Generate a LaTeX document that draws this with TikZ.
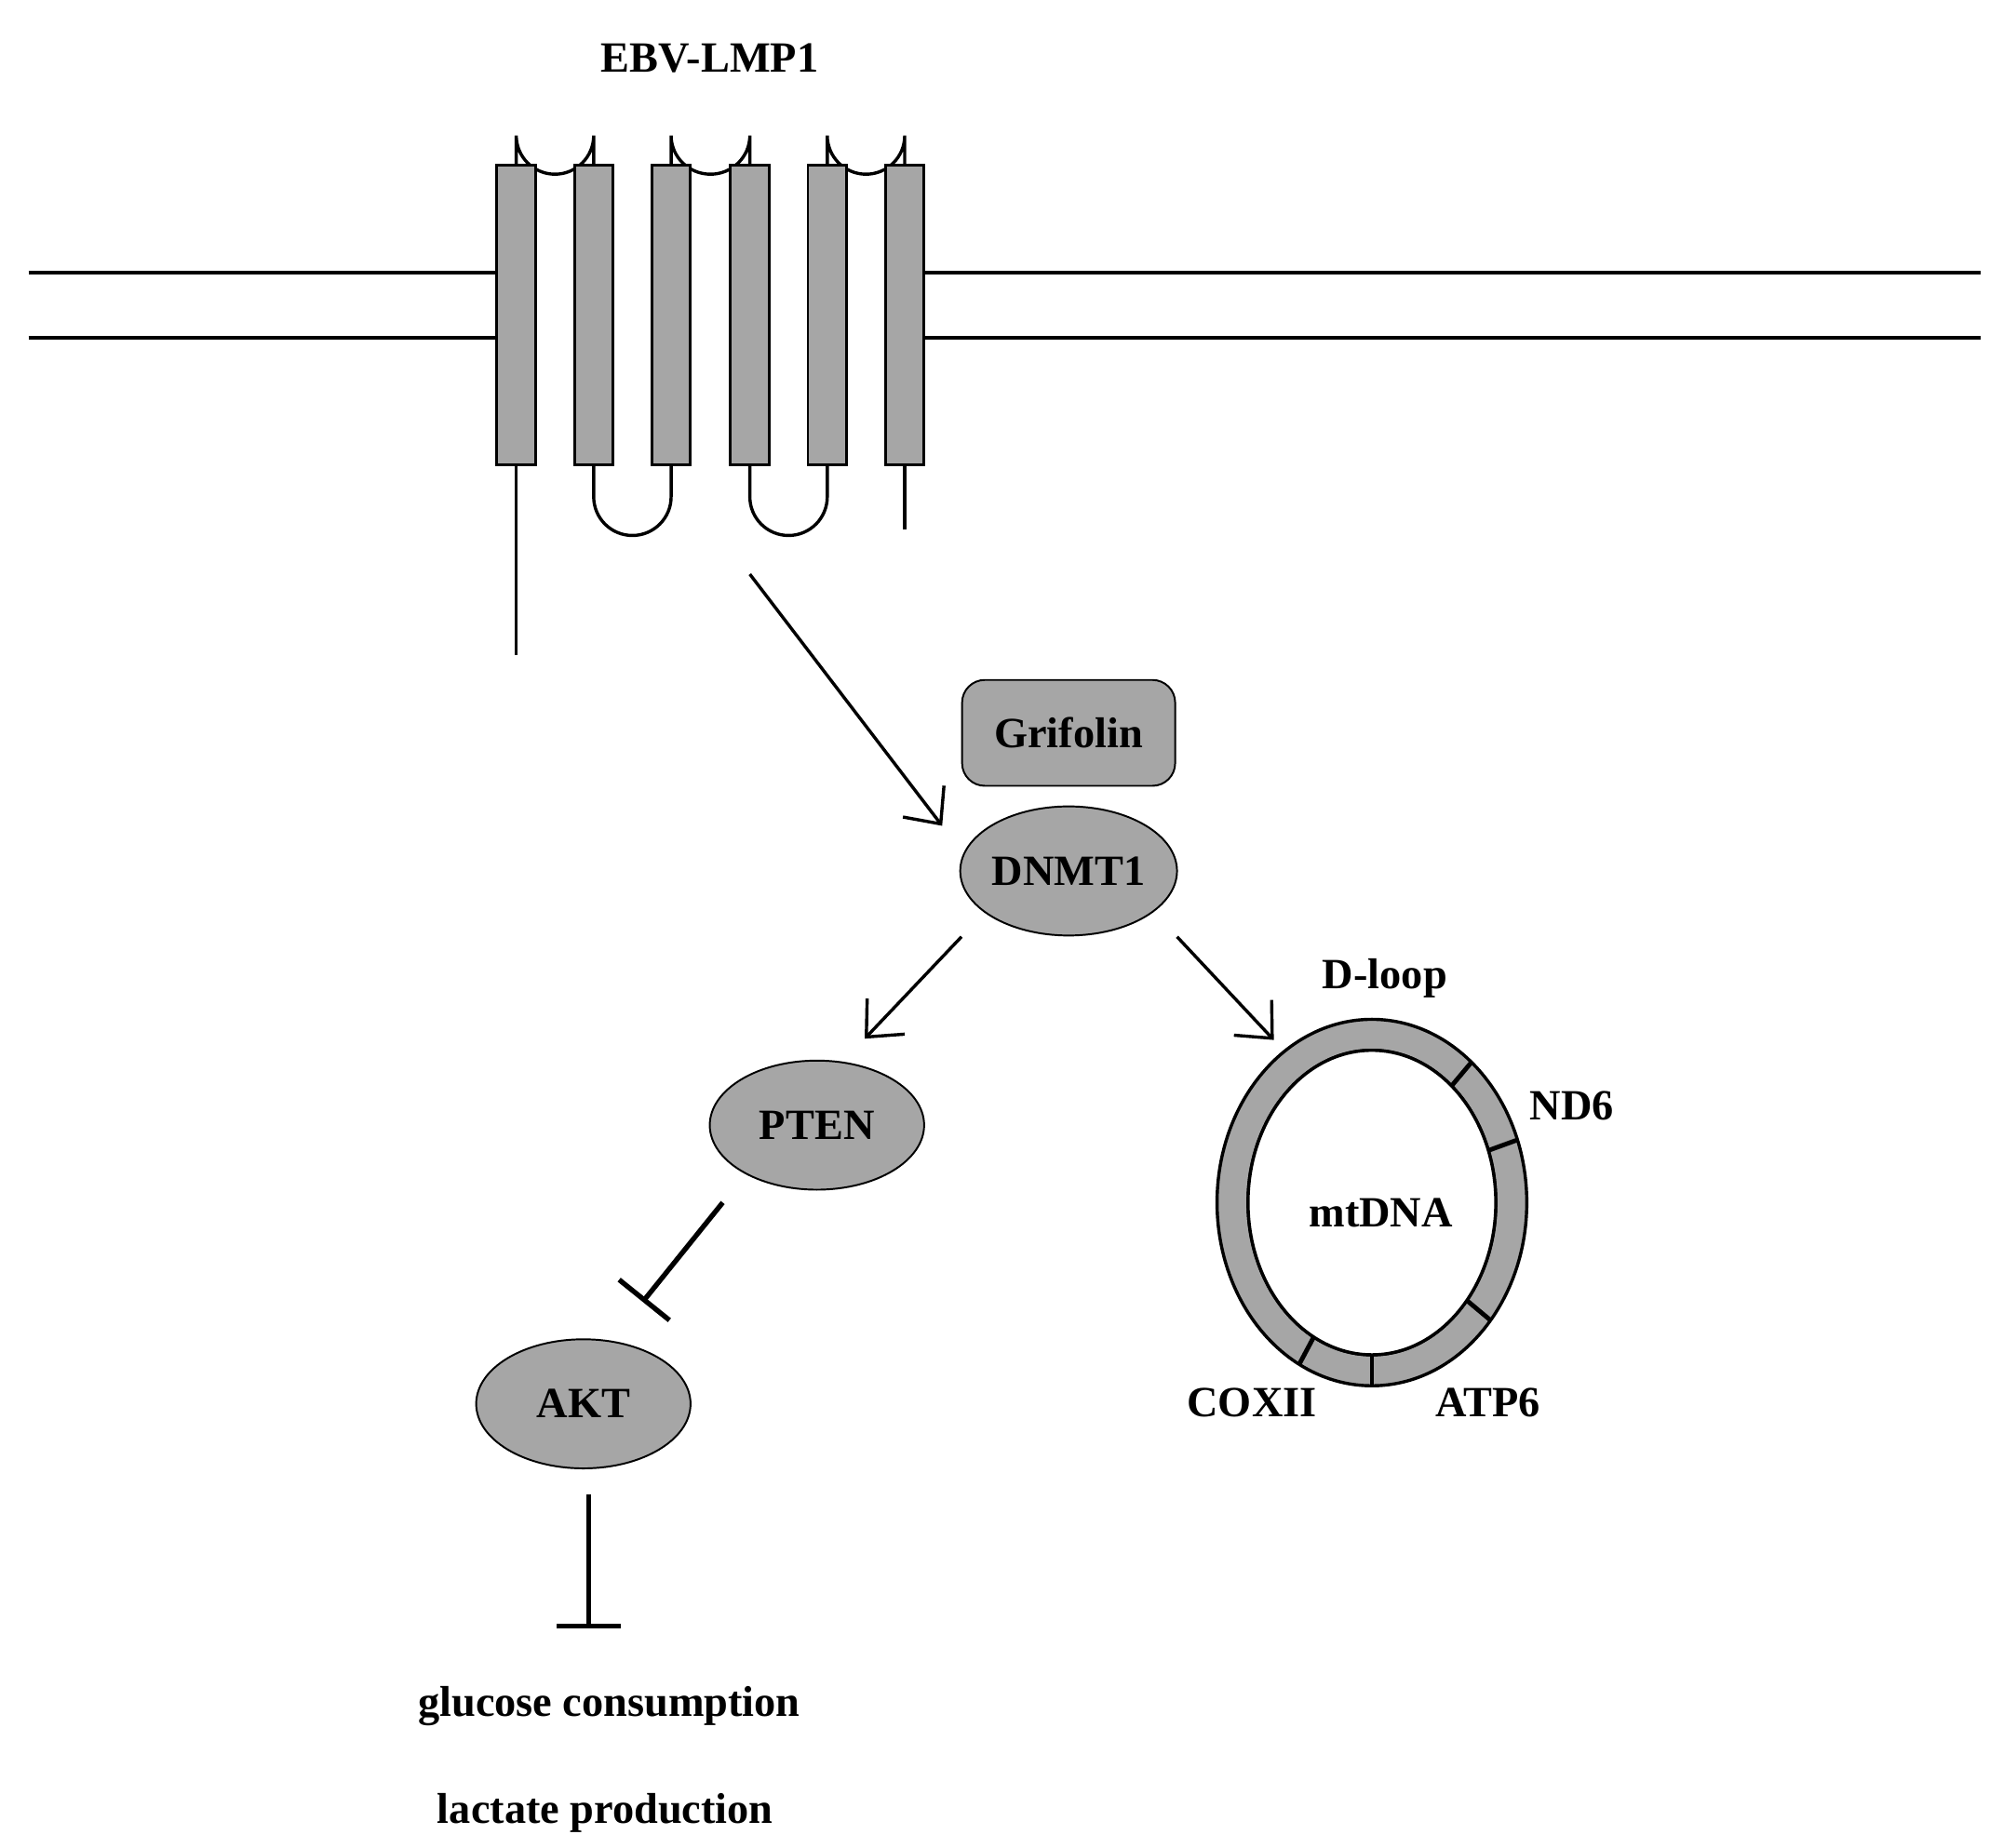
\documentclass[tikz,border=0pt]{standalone}
\usepackage{fontspec}
\setmainfont{Liberation Serif}
\usetikzlibrary{arrows.meta,shapes.geometric}
\definecolor{pg}{HTML}{A6A6A6}
\begin{document}
\begin{tikzpicture}[x=0.01cm,y=-0.01cm,
  lbl/.style={font=\fontsize{9.5}{11}\selectfont\bfseries},
  oval/.style={ellipse,draw,fill=pg,minimum width=1.66cm,minimum height=1.0cm,inner sep=0pt,font=\fontsize{9.5}{11}\selectfont\bfseries},
  tm/.style={draw,fill=pg,line width=0.6pt},
  arr/.style={-{Straight Barb[length=2.2mm,width=4mm]},line width=0.7pt},
  inh/.style={-{Bar[width=5mm]},line width=1.1pt}]
\useasboundingbox (0,0) rectangle (1552,1432);
% membrane
\draw[line width=0.8pt] (22,211) -- (385,211) (22,262) -- (385,262);
\draw[line width=0.8pt] (716,211) -- (1535,211) (716,262) -- (1535,262);
% loops
\foreach \a/\b in {400/460,520/581,641/701}
  \draw[line width=0.7pt] (\a,128) -- (\a,105) arc[start angle=180,end angle=0,x radius={(\b-\a)/2},y radius=30] -- (\b,128);
\foreach \a/\b in {460/520,581/641}
  \draw[line width=0.7pt] (\a,360) -- (\a,385) arc[start angle=180,end angle=360,x radius={(\b-\a)/2},y radius=-30] -- (\b,360);
\draw[line width=0.7pt] (400,360) -- (400,508);
\draw[line width=0.7pt] (701,360) -- (701,410);
\foreach \x in {385,445,505,566,626,686}
  \draw[tm] (\x,128) rectangle (\x+30,360);
\node[lbl] (ebv) at (550,45) {EBV-LMP1};
\coordinate (s) at (581,445);
% nodes
\node[draw,fill=pg,rounded corners=5pt,minimum width=1.65cm,minimum height=0.82cm,lbl] (gri) at (828,568) {Grifolin};
\node[oval] (dnmt) at (828,675) {DNMT1};
\node[oval] (pten) at (633,872) {PTEN};
\node[oval] (akt) at (452,1088) {AKT};
\node[lbl] (glu) at (472,1322) {glucose consumption};
\node[lbl] (lac) at (469,1405) {lactate production};
% mtDNA ring
\def\cx{1063}\def\cy{932}
\fill[pg,even odd rule,draw=black,line width=0.7pt] (\cx,\cy) ellipse[x radius=120,y radius=142] (\cx,\cy) ellipse[x radius=96,y radius=118];
\draw[fill=white,line width=0.7pt] (\cx,\cy) ellipse[x radius=96,y radius=118];
\foreach \t in {50,20,-40,-90,-118}
  \draw[line width=1pt] ({\cx+96*cos(\t)},{\cy-118*sin(\t)}) -- ({\cx+120*cos(\t)},{\cy-142*sin(\t)});
\node[lbl] (mt) at (1070,940) {mtDNA};
\node[lbl] (dl) at (1073,758) {D-loop};
\node[lbl] (nd6) at (1218,857) {ND6};
\node[lbl] (cox) at (970,1087) {COXII};
\node[lbl] (atp) at (1153,1087) {ATP6};
\coordinate (ring) at (987,806);
% connectors
\draw[arr] (s) -- (730,640);
\draw[arr] (745,726) -- (670,805);
\draw[arr] (912,726) -- (ring);
\draw[inh] (560,932) -- (498,1009);
\draw[inh] (456,1158) -- (456,1262);
\end{tikzpicture}
\end{document}
